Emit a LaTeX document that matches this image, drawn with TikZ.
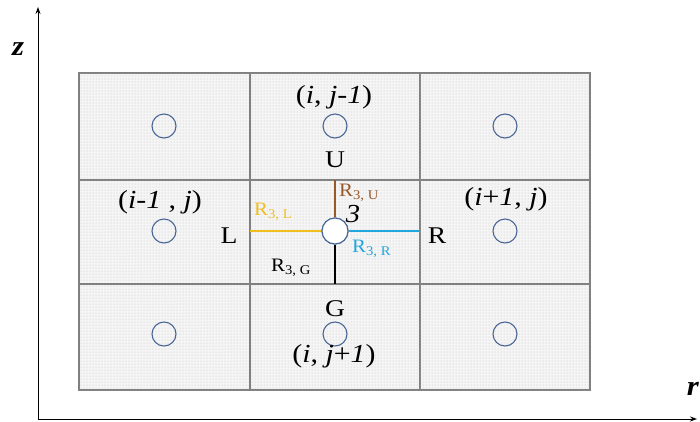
\documentclass[tikz,border=0pt]{standalone}
\usepackage{graphicx}
\usepackage{fontspec}
\setmainfont{Liberation Serif}
\usetikzlibrary{patterns,arrows.meta}
\definecolor{gridgray}{HTML}{808080}
\definecolor{cellfill}{HTML}{F5F5F5}
\definecolor{dotgray}{HTML}{BEBEBE}
\definecolor{circedge}{HTML}{4A6696}
\definecolor{rbrown}{HTML}{99582A}
\definecolor{ryellow}{HTML}{F0BE1E}
\definecolor{rblue}{HTML}{22A6DE}
\newcommand{\hstr}[2][1.2]{\scalebox{#1}[1]{#2}}
\begin{document}
\begin{tikzpicture}[x=1pt,y=-1pt,
  cell/.style={draw=gridgray,line width=1.4pt,fill=cellfill,postaction={pattern=dots,pattern color=dotgray}},
  nodecirc/.style={circle,draw=circedge,line width=1.1pt,minimum size=24pt,inner sep=0pt},
  coordlab/.style={font=\fontsize{26}{28}\selectfont,inner sep=0pt},
  big/.style={font=\fontsize{24}{26}\selectfont,inner sep=0pt},
  rlab/.style={font=\fontsize{19}{21}\selectfont,inner sep=0pt},
  axis/.style={line width=0.9pt,-{Stealth[length=7pt,width=5pt]}},
  res/.style={line width=2.8pt}]
\useasboundingbox (0,0) rectangle (700,421);
% cells
\foreach \xa/\xb in {79/250,250/420,420/590}
  \foreach \ya/\yb in {73/180,180/284,284/390}
    \draw[cell] (\xa,\ya) rectangle (\xb,\yb);
% axes
\coordinate (orig) at (38,419);
\coordinate (ztop) at (38,7);
\coordinate (rend) at (697,419);
\draw[axis] (orig) -- (ztop);
\draw[axis] (orig) -- (rend);
\node[font=\fontsize{28}{30}\selectfont\bfseries\itshape,inner sep=0pt] (zl) at (18,49) {\hstr[1.1]{z}};
\node[font=\fontsize{28}{30}\selectfont\bfseries\itshape,anchor=east,inner sep=0pt] (rl) at (699,389) {\hstr[1.1]{r}};
% side circles
\node[nodecirc] (c11) at (164,126) {};
\node[nodecirc] (c12) at (335,126) {};
\node[nodecirc] (c13) at (505,126) {};
\node[nodecirc] (c21) at (164,231) {};
\node[nodecirc] (c23) at (505,231) {};
\node[nodecirc] (c31) at (164,334) {};
\node[nodecirc] (c32) at (335,334) {};
\node[nodecirc] (c33) at (505,334) {};
% boundary coordinates
\coordinate (bu) at (335,180);
\coordinate (bg) at (335,284);
\coordinate (bl) at (250,231);
\coordinate (br) at (420,231);
% resistances
\node[nodecirc,minimum size=26pt] (c3) at (335,231) {};
\draw[res,rbrown] (c3.north) -- (bu);
\draw[res,black] (c3.south) -- (bg);
\draw[res,ryellow] (c3.west) -- (bl);
\draw[res,rblue] (c3.east) -- (br);
\node[nodecirc,minimum size=26pt,fill=white] at (c3) {};
% labels
\node[coordlab] (t1) at (334,97) {\hstr[1.15]{(\textit{i}, \textit{j}-\textit{1})}};
\node[big] (tu) at (335,160) {\hstr[1.15]{U}};
\node[coordlab] (t2) at (160,202) {\hstr[1.15]{(\textit{i}-\textit{1} , \textit{j})}};
\node[big] (tl) at (229,236) {\hstr[1.15]{L}};
\node[coordlab] (t3) at (506,199) {\hstr[1.15]{(\textit{i}+\textit{1}, \textit{j})}};
\node[big] (tr) at (437,236) {\hstr[1.15]{R}};
\node[big] (tg) at (335,309) {\hstr[1.15]{G}};
\node[coordlab] (t4) at (334,356) {\hstr[1.15]{(\textit{i}, \textit{j}+\textit{1})}};
\node[coordlab] (t3n) at (353,214) {\hstr[1.1]{\textit{3}}};
\node[rlab,text=rbrown,anchor=west] (ru) at (339,193) {\hstr[1.1]{R\textsubscript{3, U}}};
\node[rlab,text=ryellow,anchor=west] (rll) at (254,212) {\hstr[1.1]{R\textsubscript{3, L}}};
\node[rlab,text=rblue,anchor=west] (rr) at (352,249) {\hstr[1.1]{R\textsubscript{3, R}}};
\node[rlab,text=black,anchor=west] (rg) at (271,268) {\hstr[1.1]{R\textsubscript{3, G}}};
\end{tikzpicture}
\end{document}
